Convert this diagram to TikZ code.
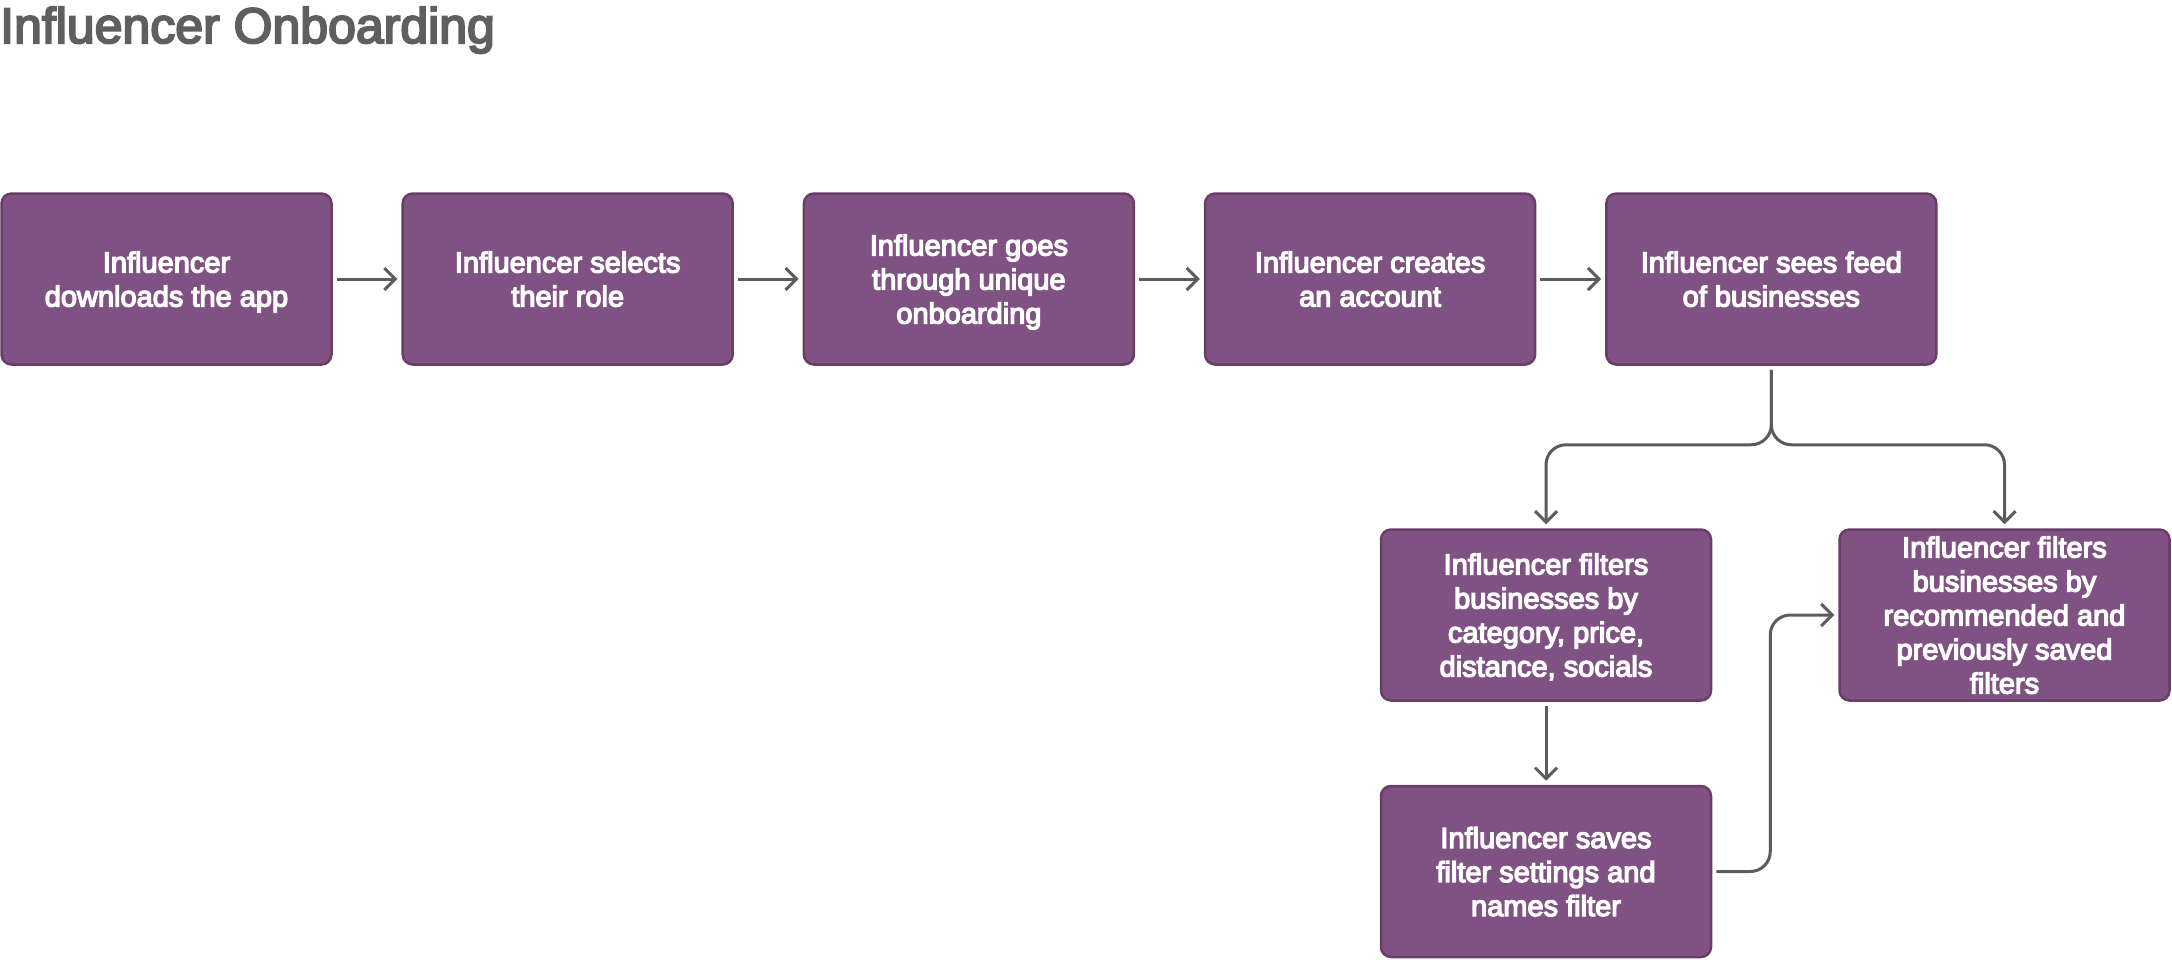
\documentclass[tikz,border=0pt]{standalone}
\usepackage{fontspec}
\setmainfont{Liberation Sans}
\usetikzlibrary{arrows.meta}
\definecolor{boxfill}{RGB}{128,82,131}
\definecolor{boxline}{RGB}{104,62,102}
\definecolor{arrowgray}{RGB}{92,92,92}
\definecolor{titlegray}{RGB}{95,95,95}
\newcommand{\embolden}[2]{\special{pdf:literal direct 2 Tr #1 w}#2\special{pdf:literal direct 0 Tr}}
\begin{document}
\begin{tikzpicture}[x=1pt,y=-1pt,
  stepbox/.style={draw=boxline, fill=boxfill, line width=2.5pt, rounded corners=10pt,
    minimum width=330pt, minimum height=171pt, text=white, align=center,
    font=\fontsize{29}{34}\selectfont, inner sep=0pt, text depth=0pt},
  flow/.style={draw=arrowgray, line width=3pt, rounded corners=20pt,
    -{Straight Barb[length=11pt,width=22pt]}, shorten >=4pt, shorten <=4pt},
  titletext/.style={anchor=base west, inner sep=0pt, text=titlegray,
    font=\fontsize{50}{60}\selectfont}]
\useasboundingbox (0,0) rectangle (2172,959);
\node[titletext] (title) at (0,43) {\embolden{2.0}{Influencer Onboarding}};
\node[stepbox] (b1) at (166.5,279) {\embolden{1.3}{Influencer\\downloads the app}};
\node[stepbox] (b2) at (567.7,279) {\embolden{1.3}{Influencer selects\\their role}};
\node[stepbox] (b3) at (968.9,279) {\embolden{1.3}{Influencer goes\\through unique\\onboarding}};
\node[stepbox] (b4) at (1370.1,279) {\embolden{1.3}{Influencer creates\\an account}};
\node[stepbox] (b5) at (1771.3,279) {\embolden{1.3}{Influencer sees feed\\of businesses}};
\node[stepbox] (b6) at (1546,615) {\embolden{1.3}{Influencer filters\\businesses by\\category, price,\\distance, socials}};
\node[stepbox] (b7) at (2004.5,615) {\embolden{1.3}{Influencer filters\\businesses by\\recommended and\\previously saved\\filters}};
\node[stepbox] (b8) at (1546,871.5) {\embolden{1.3}{Influencer saves\\filter settings and\\names filter}};
\draw[flow] (b1) -- (b2);
\draw[flow] (b2) -- (b3);
\draw[flow] (b3) -- (b4);
\draw[flow] (b4) -- (b5);
\draw[flow] (b5.south) -- ++(0,79) -| (b6.north);
\draw[flow] (b5.south) -- ++(0,79) -| (b7.north);
\draw[flow] (b6) -- (b8);
\draw[flow] (b8.east) -- ++(58,0) |- (b7.west);
\end{tikzpicture}
\end{document}
